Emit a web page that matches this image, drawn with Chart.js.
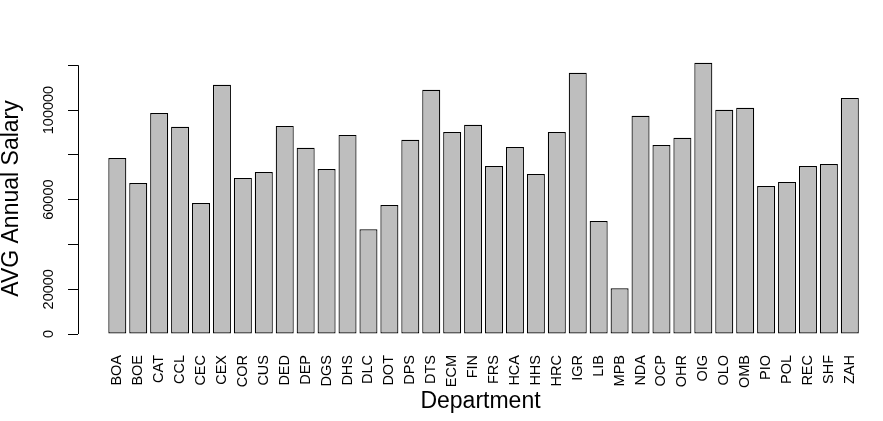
<!DOCTYPE html>
<html>
<head>
<meta charset="utf-8">
<script src="https://cdn.jsdelivr.net/npm/chart.js@4"></script>
<style>
  html, body { margin: 0; padding: 0; background: #fff; }
  canvas { display: block; }
</style>
</head>
<body>
<canvas id="chart" width="883" height="421"></canvas>
<script>
const departments = ['BOA', 'BOE', 'CAT', 'CCL', 'CEC', 'CEX', 'COR', 'CUS', 'DED', 'DEP', 'DGS', 'DHS',
  'DLC', 'DOT', 'DPS', 'DTS', 'ECM', 'FIN', 'FRS', 'HCA', 'HHS', 'HRC', 'IGR', 'LIB',
  'MPB', 'NDA', 'OCP', 'OHR', 'OIG', 'OLO', 'OMB', 'PIO', 'POL', 'REC', 'SHF', 'ZAH'];
const avgSalary = [78600, 67400, 98700, 92500, 58500, 111300, 69700, 72300, 92900, 83100, 73700, 88900,
  46800, 57600, 86700, 109000, 90200, 93400, 75000, 83500, 71400, 90200, 116600, 50400,
  20400, 97400, 84400, 87600, 121100, 100100, 101000, 66100, 67900, 75000, 75900, 105400];
const yTicks = [0, 20000, 40000, 60000, 80000, 100000, 120000];
const yTickLabels = [0, 20000, 60000, 100000]; // R drops the ones that would overlap

const font = "'Liberation Sans', Arial, sans-serif";

// axis line only between first and last tick, like R's axis()
const axisLine = {
  id: 'axisLine',
  afterDraw(chart) {
    const y = chart.scales.y;
    const ctx = chart.ctx;
    ctx.save();
    ctx.strokeStyle = '#000';
    ctx.lineWidth = 1;
    ctx.beginPath();
    ctx.moveTo(y.right + 0.5, y.getPixelForValue(yTicks[0]));
    ctx.lineTo(y.right + 0.5, y.getPixelForValue(yTicks[yTicks.length - 1]));
    ctx.stroke();
    ctx.restore();
  }
};

new Chart(document.getElementById('chart'), {
  type: 'bar',
  data: {
    datasets: [{
      data: avgSalary.map((v, i) => ({ x: i + 1, y: v })),
      backgroundColor: '#bebebe',
      borderColor: '#000',
      borderWidth: 1.2,
      borderSkipped: false,
      barPercentage: 0.86,
      categoryPercentage: 1
    }]
  },
  options: {
    responsive: false,
    devicePixelRatio: 1,
    animation: false,
    layout: { padding: { top: 52, left: 0, right: 0, bottom: 0 } },
    plugins: { legend: { display: false }, tooltip: { enabled: false } },
    scales: {
      x: {
        type: 'linear',
        offset: false,
        min: -0.878,
        max: 37.585,
        grid: { display: false, drawTicks: false },
        border: { display: false },
        afterBuildTicks: (scale) => { scale.ticks = departments.map((d, i) => ({ value: i + 1 })); },
        afterFit: (scale) => { scale.height = 76; },
        ticks: {
          autoSkip: false,
          minRotation: 90,
          maxRotation: 90,
          padding: 10,
          color: '#000',
          font: { family: font, size: 14.5 },
          callback: (value) => departments[value - 1]
        },
        title: {
          display: true,
          text: 'Department',
          color: '#000',
          font: { family: font, size: 23, lineHeight: 1 },
          padding: { top: 0, bottom: 8 }
        }
      },
      y: {
        min: -4900,
        max: 125900,
        afterBuildTicks: (scale) => { scale.ticks = yTicks.map(v => ({ value: v })); },
        afterFit: (scale) => { scale.width = 78; },
        grid: { drawOnChartArea: false, drawTicks: true, tickLength: 10, color: '#000', lineWidth: 1 },
        border: { display: false },
        ticks: {
          autoSkip: false,
          minRotation: 90,
          maxRotation: 90,
          crossAlign: 'center',
          padding: -5,
          color: '#000',
          font: { family: font, size: 14.5 },
          callback: (value) => yTickLabels.includes(value) ? String(value) : ''
        },
        title: {
          display: true,
          text: 'AVG Annual Salary',
          color: '#000',
          font: { family: font, size: 23, lineHeight: 1 },
          padding: { top: 0, bottom: 0 }
        }
      }
    }
  },
  plugins: [axisLine]
});
</script>
</body>
</html>
